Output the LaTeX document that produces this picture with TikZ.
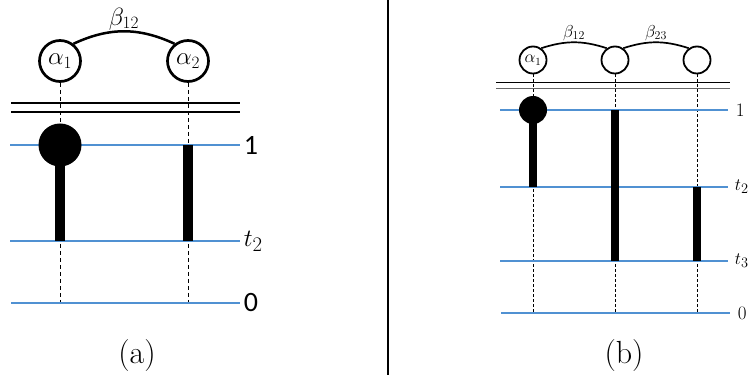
\documentclass[tikz,border=0pt]{standalone}
\usepackage{fontspec}
\newfontfamily\calfont{Carlito}
\usepackage{tikz}
\usetikzlibrary{positioning}
\definecolor{levelblue}{RGB}{80,145,210}

\begin{document}
\begin{tikzpicture}[x=1pt,y=-1pt,
    site/.style={draw,circle,line width=2.7pt,minimum size=41pt,inner sep=0pt,font=\fontsize{24}{28}\selectfont},
    smallsite/.style={draw,circle,line width=1.8pt,minimum size=27pt,inner sep=0pt,font=\fontsize{16}{19}\selectfont},
    ball/.style={fill,circle,inner sep=0pt,minimum size=#1},
    level/.style={draw=levelblue,line width=1.1pt},
    guide/.style={dash pattern=on 4pt off 3pt,line width=0.7pt},
    bar/.style={line width=#1},
    bigtick/.style={anchor=west,font=\calfont\fontsize{28}{32}\selectfont},
    smalltick/.style={anchor=west,font=\fontsize{19}{22}\selectfont}]
    \useasboundingbox (0,0) rectangle (749,379);

    % (a) two sites
    \node[site] (a1) at (60,61) {$\alpha_1$};
    \node[site] (a2) at (188,61) {$\alpha_2$};
    \draw[line width=2.5pt] (a1.52) to[bend left=25] node[above,inner sep=0pt,font=\fontsize{24}{28}\selectfont] {$\beta_{12}$} (a2.128);

    \coordinate (a1one) at (60,145);
    \coordinate (a2one) at (188,145);
    \coordinate (a1two) at (60,241);
    \coordinate (a2two) at (188,241);
    \coordinate (a1zero) at (60,303);
    \coordinate (a2zero) at (188,303);

    \draw[guide] (a1.south) -- (a1zero);
    \draw[guide] (a2.south) -- (a2zero);
    \draw[line width=1.3pt] (11,103) -- (240,103);
    \draw[line width=1.3pt] (11,112) -- (240,112);

    \draw[level] (10,145) -- (240,145) node[bigtick] {1};
    \draw[level] (10,241) -- (240,241) node[bigtick,font=\fontsize{28}{32}\selectfont] {$t_2$};
    \draw[level] (11,303) -- (240,303) node[bigtick] {0};

    \node[ball=43pt] (a1ball) at (a1one) {};
    \draw[bar=10pt] (a1ball.center) -- (a1two);
    \draw[bar=10pt] (a2one) -- (a2two);

    \node[font=\fontsize{32}{36}\selectfont] (capa) at (137,356) {(a)};

    % divider
    \draw[line width=2pt] (388,0) -- (388,375);

    % (b) three sites
    \node[smallsite] (b1) at (533,60) {$\alpha_1$};
    \node[smallsite] (b2) at (615,60) {};
    \node[smallsite] (b3) at (697,60) {};
    \draw[line width=1.7pt] (b1.55) to[bend left=18] node[above,inner sep=1pt,font=\fontsize{17}{20}\selectfont] {$\beta_{12}$} (b2.125);
    \draw[line width=1.7pt] (b2.55) to[bend left=18] node[above,inner sep=1pt,font=\fontsize{17}{20}\selectfont] {$\beta_{23}$} (b3.125);

    \coordinate (b1one) at (533,110);
    \coordinate (b2one) at (615,110);
    \coordinate (b1two) at (533,187);
    \coordinate (b3two) at (697,187);
    \coordinate (b2three) at (615,261);
    \coordinate (b3three) at (697,261);

    \draw[guide,dash pattern=on 3pt off 2pt,line width=0.6pt] (b1.south) -- (533,313);
    \draw[guide,dash pattern=on 3pt off 2pt,line width=0.6pt] (b2.south) -- (615,313);
    \draw[guide,dash pattern=on 3pt off 2pt,line width=0.6pt] (b3.south) -- (697,313);
    \draw[line width=1pt] (496,83) -- (730,83);
    \draw[line width=1pt,black!60] (496,89) -- (730,89);

    \draw[level] (500,110) -- (728,110) node[smalltick,xshift=4pt] {1};
    \draw[level] (500,187) -- (728,187) node[smalltick,xshift=3pt] {$t_2$};
    \draw[level] (500,261) -- (728,261) node[smalltick,xshift=3pt] {$t_3$};
    \draw[level] (501,313) -- (730,313) node[smalltick,xshift=4pt] {0};

    \node[ball=28pt] (b1ball) at (b1one) {};
    \draw[bar=8pt] (b1ball.center) -- (b1two);
    \draw[bar=8pt] (b2one) -- (b2three);
    \draw[bar=8pt] (b3two) -- (b3three);

    \node[font=\fontsize{32}{36}\selectfont] (capb) at (624,356) {(b)};
\end{tikzpicture}
\end{document}
